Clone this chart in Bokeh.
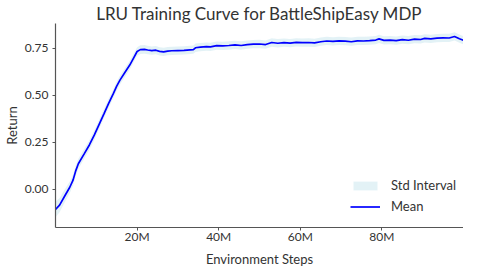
from bokeh.plotting import figure
from bokeh.models import ColumnDataSource, Range1d, FixedTicker, Legend, LegendItem
from bokeh.embed import file_html
from bokeh.resources import INLINE

title_text = "LRU Training Curve for BattleShipEasy MDP"
x_label = "Environment Steps"
y_label = "Return"

steps_m = [0.0, 1.0, 2.3, 3.5, 4.3, 5.0, 5.6, 7.1, 8.3, 9.5, 10.7, 11.9, 13.0, 14.2, 15.0,
           15.8, 17.0, 18.2, 19.2, 20.0, 20.8, 21.8, 22.6, 23.6, 24.6, 25.5, 26.5, 27.5,
           28.5, 30.0, 31.5, 33.0, 33.8, 34.3, 35.5, 37.0, 38.0, 39.5, 41.0, 42.5, 44.0,
           45.5, 47.0, 48.5, 50.0, 51.5, 53.0, 54.5, 56.0, 57.5, 59.0, 60.5, 62.0, 63.5,
           65.0, 66.5, 68.0, 69.5, 71.0, 72.5, 74.0, 75.5, 77.0, 78.5, 79.3, 80.5, 82.0,
           83.5, 85.0, 86.5, 88.0, 89.5, 90.5, 92.0, 93.5, 95.0, 96.5, 97.8, 99.0, 100.0]
mean_return = [-0.108, -0.085, -0.035, 0.010, 0.048, 0.100, 0.135, 0.190, 0.235, 0.287,
               0.345, 0.402, 0.455, 0.509, 0.548, 0.580, 0.620, 0.660, 0.700, 0.732, 0.742,
               0.743, 0.740, 0.737, 0.739, 0.733, 0.730, 0.734, 0.736, 0.737, 0.738, 0.741,
               0.742, 0.752, 0.755, 0.758, 0.757, 0.763, 0.762, 0.764, 0.767, 0.764, 0.769,
               0.771, 0.772, 0.769, 0.780, 0.776, 0.779, 0.777, 0.781, 0.779, 0.780, 0.778,
               0.784, 0.788, 0.786, 0.789, 0.787, 0.784, 0.789, 0.788, 0.790, 0.793, 0.799,
               0.791, 0.793, 0.790, 0.795, 0.792, 0.798, 0.796, 0.802, 0.799, 0.803, 0.805,
               0.804, 0.812, 0.800, 0.792]
std_return = [0.042, 0.038, 0.034, 0.031, 0.029, 0.028, 0.027, 0.026, 0.025, 0.025,
              0.024, 0.024, 0.024, 0.023, 0.023, 0.023, 0.023, 0.023, 0.023, 0.023, 0.023,
              0.023, 0.023, 0.022, 0.022, 0.022, 0.022, 0.022, 0.022, 0.022, 0.022, 0.022,
              0.022, 0.022, 0.022, 0.022, 0.022, 0.022, 0.022, 0.022, 0.022, 0.022, 0.022,
              0.022, 0.022, 0.022, 0.022, 0.022, 0.022, 0.022, 0.022, 0.022, 0.022, 0.022,
              0.022, 0.022, 0.022, 0.022, 0.022, 0.022, 0.022, 0.022, 0.022, 0.022, 0.022,
              0.022, 0.022, 0.022, 0.022, 0.022, 0.022, 0.022, 0.022, 0.022, 0.022, 0.022,
              0.022, 0.022, 0.022, 0.022]

x_ticks = [20, 40, 60, 80]
x_tick_labels = ["20M", "40M", "60M", "80M"]
y_ticks = [0.0, 0.25, 0.5, 0.75]
y_tick_labels = ["0.00", "0.25", "0.50", "0.75"]

lower = [m - s for m, s in zip(mean_return, std_return)]
upper = [m + s for m, s in zip(mean_return, std_return)]
src = ColumnDataSource(dict(x=steps_m, mean=mean_return, lo=lower, hi=upper))

FONT = "Lato"
TXT = "#333333"

p = figure(width=463, frame_height=204, output_backend="svg", toolbar_location=None,
           x_range=Range1d(0, 100), y_range=Range1d(-0.204, 0.881),
           min_border_left=40, min_border_right=0, min_border_top=21, min_border_bottom=30)
p.outline_line_color = None
p.xgrid.visible = False
p.ygrid.visible = False

p.title.text = title_text
p.title.align = "center"
p.title.offset = 0
p.title.standoff = 0
p.title.text_font = FONT
p.title.text_font_size = "17px"
p.title.text_font_style = "normal"
p.title.text_color = TXT

band = p.varea(x="x", y1="lo", y2="hi", source=src, fill_color="#add8e6", fill_alpha=0.34)
line = p.line(x="x", y="mean", source=src, line_color="#0000ff", line_width=1.7)

for ax in (p.xaxis[0], p.yaxis[0]):
    ax.axis_line_color = "#555555"
    ax.axis_line_width = 1.2
    ax.major_tick_line_color = "#555555"
    ax.major_tick_out = 3
    ax.major_tick_in = 0
    ax.minor_tick_line_color = None
    ax.major_label_text_font = FONT
    ax.major_label_text_font_size = "12px"
    ax.major_label_text_color = TXT
    ax.axis_label_text_font = FONT
    ax.axis_label_text_font_size = "13px"
    ax.axis_label_text_font_style = "normal"
    ax.axis_label_text_color = TXT

p.xaxis.ticker = FixedTicker(ticks=x_ticks)
p.xaxis.major_label_overrides = dict(zip(x_ticks, x_tick_labels))
p.yaxis.ticker = FixedTicker(ticks=y_ticks)
p.yaxis.major_label_overrides = dict(zip(y_ticks, y_tick_labels))
p.xaxis.axis_label = x_label
p.yaxis.axis_label = y_label
p.xaxis.major_label_standoff = -2
p.yaxis.major_label_standoff = 4
p.xaxis.axis_label_standoff = 4
p.yaxis.axis_label_standoff = 2

legend = Legend(items=[LegendItem(label="Std Interval", renderers=[band]),
                       LegendItem(label="Mean", renderers=[line])],
                location=(295, 13), padding=0, margin=0, spacing=5,
                glyph_width=30, glyph_height=11, label_height=15, label_standoff=11,
                label_text_font=FONT, label_text_font_size="13px", label_text_color=TXT,
                border_line_color=None, background_fill_alpha=0)
p.add_layout(legend, "center")

open("out.html", "w").write(file_html(p, INLINE))
